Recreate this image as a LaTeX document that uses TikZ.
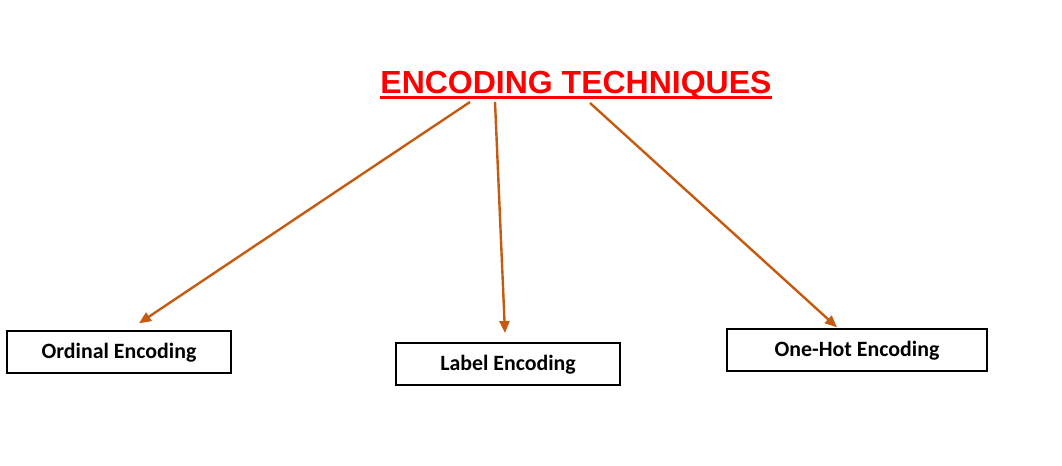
\documentclass[tikz,border=0pt]{standalone}
\usepackage{fontspec}
\setmainfont{Liberation Sans}
\newfontfamily\calibri{Carlito}
\usepackage{tikz}
\usetikzlibrary{arrows.meta,positioning}
\definecolor{encred}{HTML}{FF0000}
\definecolor{arrbrown}{HTML}{C55A11}
\newcommand{\redul}[1]{\setbox0\hbox{#1}\rlap{\rule[-4.3pt]{\wd0}{2.2pt}}\box0}

\begin{document}
\begin{tikzpicture}[
  x=0.75pt, y=-0.75pt,
  title/.style={font=\fontsize{24}{29}\selectfont\bfseries, text=encred,
                inner sep=0pt},
  techbox/.style={draw, rectangle, line width=1.5pt, minimum height=31.5pt,
                  font=\calibri\fontsize{16.4}{18}\selectfont\bfseries,
                  text height=1.1em, text depth=0.12em, inner sep=0pt},
  arr/.style={-{Triangle[length=9pt,width=7.5pt]}, line width=1.8pt, arrbrown},
]
  \useasboundingbox (0,0) rectangle (1062,466);

  %% Title
  \node[title] (tt) at (576,85) {\redul{ENCODING TECHNIQUES}};

  %% Encoding boxes
  \node[techbox, minimum width=168pt] (ord) at (119,352) {Ordinal Encoding};
  \node[techbox, minimum width=168pt] (lab) at (508,364) {Label Encoding};
  \node[techbox, minimum width=195pt] (hot) at (857,350) {One-Hot Encoding};

  %% Arrows from the title
  \coordinate (s1) at (470,102);
  \coordinate (s2) at (495,102);
  \coordinate (s3) at (590,103);
  \draw[arr] (s1) -- ([xshift=15pt,yshift=5pt]ord.north);
  \draw[arr] (s2) -- ([shift={(-2.25pt,6.75pt)}]lab.north);
  \draw[arr] (s3) -- ([shift={(-15pt,0.5pt)}]hot.north);
\end{tikzpicture}
\end{document}
